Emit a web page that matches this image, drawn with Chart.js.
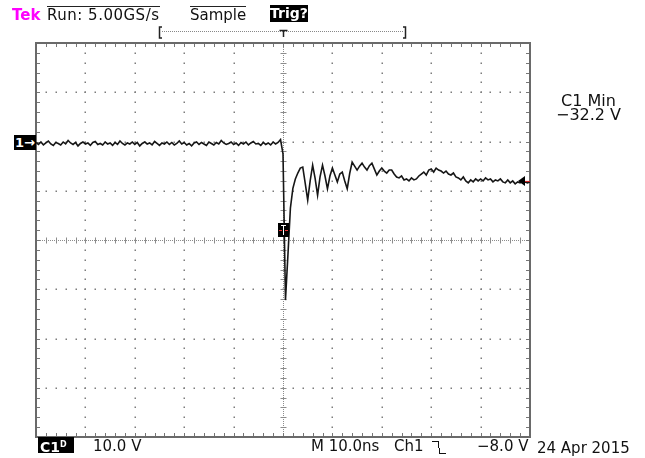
<!DOCTYPE html>
<html>
<head>
<meta charset="utf-8">
<script src="https://cdn.jsdelivr.net/npm/chart.js@4.4.1/dist/chart.umd.min.js"></script>
<style>
  body { margin: 0; background: #fff; }
  #scope { position: relative; width: 645px; height: 458px; overflow: hidden; font-family: "DejaVu Sans", sans-serif; color: #111; }
  #scope canvas { position: absolute; left: 0; top: 0; }
  .txt { position: absolute; font-size: 15px; line-height: 15px; white-space: nowrap; }
  .bar { position: absolute; height: 1px; background: #222; }
  .inv { position: absolute; background: #000; color: #fff; font-weight: bold; font-size: 14px; line-height: 16px; white-space: nowrap; }
</style>
</head>
<body>
<div id="scope">
  <canvas id="scope-chart" width="645" height="458"></canvas>

  <div class="txt" style="left:12px; top:8px; color:#ff00ff; font-weight:bold;">Tek</div>
  <div class="bar" style="left:47px; top:6px; width:113px;"></div>
  <div class="txt" style="left:47px; top:8px; letter-spacing:0.5px;">Run: 5.00GS/s</div>
  <div class="bar" style="left:190px; top:6px; width:56px;"></div>
  <div class="txt" style="left:190px; top:8px;">Sample</div>
  <div class="inv" style="left:270px; top:5px; width:38px; height:17px; text-align:center;">Trig?</div>

  <div class="inv" style="left:14px; top:135px; width:21px; height:15px; font-size:13px; line-height:15px; padding-left:1px;">1→</div>

  <div class="txt" style="left:561px; top:93px; font-size:16px; line-height:16px;">C1 Min</div>
  <div class="txt" style="left:556px; top:107px; font-size:16px; line-height:16px;">−32.2 V</div>

  <div class="inv" style="left:38px; top:437px; width:34px; height:16px; padding-left:2px;">C1<span style="font-size:8px; vertical-align:5px;">D</span></div>
  <div class="txt" style="left:93px; top:439px;">10.0 V</div>
  <div class="txt" style="left:311px; top:439px;">M 10.0ns</div>
  <div class="txt" style="left:394px; top:439px;">Ch1</div>
  <div style="position:absolute; left:432px; top:441px; width:6px; height:6px; border-top:1.5px solid #111; border-right:1.5px solid #111;"></div>
  <div style="position:absolute; left:439px; top:448px; width:6px; height:5px; border-left:1.5px solid #111; border-bottom:1.5px solid #111;"></div>
  <div class="txt" style="left:477px; top:439px;">−8.0 V</div>
  <div class="txt" style="left:537px; top:441px;">24 Apr 2015</div>
</div>

<script>
// time axis (ns) and volt axis (V), 10 divisions x 8 divisions
const timeDivisionsNs = [-50, -40, -30, -20, -10, 0, 10, 20, 30, 40, 50];
const voltDivisions = [-60, -50, -40, -30, -20, -10, 0, 10, 20];
const minorStepNs = 2;
const minorStepV = 2;
const triggerLevelV = -8;

// Ch1 record, one sample every 0.5 ns from -50 ns
const timeStartNs = -50;
const sampleStepNs = 0.5;
const ch1Volts = [
    -0.2, -0.6, -0.1, -0.7, -0.3, 0.1, -0.5, -0.8, -0.2, -0.4,
    -0.7, -0.1, -0.5, 0.2, -0.3, -0.6, -0.2, -0.9, -0.4, -0.1,
    -0.5, -0.3, -0.8, -0.2, 0.0, -0.6, -0.4, -0.7, -0.1, -0.5,
    -0.3, -0.8, -0.2, -0.6, 0.1, -0.4, -0.7, -0.3, -0.5, -0.1,
    -0.6, -0.2, -0.9, -0.4, -0.1, -0.5, -0.3, -0.7, 0.0, -0.4,
    -0.8, -0.3, -0.5, -0.1, -0.6, -0.2, -0.7, -0.4, 0.1, -0.5,
    -0.2, -0.7, -0.4, -0.9, -0.3, -0.1, -0.6, -0.2, -0.5, -0.8,
    -0.1, -0.4, -0.7, -0.2, -0.5, 0.2, -0.3, -0.6, -0.4, -0.1,
    -0.6, -0.3, -0.8, -0.2, -0.5, -0.1, -0.7, -0.3, 0.0, -0.5,
    -0.4, -0.8, -0.2, -0.6, -0.3, -0.7, -0.1, -0.5, -0.2, 0.4,
    -2.5, -32.2, -23.0, -13.5, -9.5, -7.6, -6.4, -5.4, -5.2, -8.5,
    -11.9, -8.0, -4.8, -7.5, -10.9, -7.2, -4.8, -7.0, -9.6, -7.0,
    -5.4, -6.8, -8.2, -6.6, -6.2, -8.0, -9.6, -6.5, -4.2, -5.0,
    -5.8, -5.0, -4.4, -5.2, -5.8, -4.9, -4.4, -5.6, -6.8, -6.0,
    -5.4, -6.0, -6.4, -5.8, -5.8, -6.6, -7.2, -7.4, -7.0, -7.8,
    -7.6, -8.0, -7.4, -7.8, -7.6, -7.0, -6.6, -6.2, -6.8, -5.8,
    -5.6, -6.2, -5.4, -5.8, -6.0, -6.4, -6.0, -6.6, -6.8, -6.4,
    -7.2, -7.4, -7.8, -7.2, -8.0, -8.4, -7.8, -8.2, -7.6, -8.0,
    -7.6, -8.0, -7.4, -7.8, -7.6, -8.2, -7.8, -8.0, -7.6, -8.2,
    -8.4, -7.8, -8.4, -8.0, -8.6, -8.2, -8.4, -8.0, -8.2, -8.4,
    -8.2
];

const points = ch1Volts.map((v, i) => ({x: timeStartNs + i * sampleStepNs, y: v}));

const tMin = timeDivisionsNs[0], tMax = timeDivisionsNs[timeDivisionsNs.length - 1];
const vMin = voltDivisions[0], vMax = voltDivisions[voltDivisions.length - 1];
const tMid = (tMin + tMax) / 2, vMid = (vMin + vMax) / 2;

// graticule, record bar and markers
const scopeGrid = {
    id: 'scopeGrid',
    beforeDatasetsDraw(chart) {
        const {ctx, chartArea: a, scales: {x, y}} = chart;
        ctx.save();

        // dotted division lines
        ctx.fillStyle = '#7c7c7c';
        timeDivisionsNs.forEach(t => {
            if (t === tMin || t === tMax || t === tMid) return;
            const px = Math.round(x.getPixelForValue(t));
            for (let v = vMin; v <= vMax; v += minorStepV) {
                ctx.fillRect(px - 0.5, Math.round(y.getPixelForValue(v)) - 0.5, 1.5, 1.5);
            }
        });
        voltDivisions.forEach(v => {
            if (v === vMin || v === vMax || v === vMid) return;
            const py = Math.round(y.getPixelForValue(v));
            for (let t = tMin; t <= tMax; t += minorStepNs) {
                ctx.fillRect(Math.round(x.getPixelForValue(t)) - 0.5, py - 0.5, 1.5, 1.5);
            }
        });

        // centre cross with fine dots and minor ticks
        const cx = Math.round(x.getPixelForValue(tMid)) + 0.5;
        const cy = Math.round(y.getPixelForValue(vMid)) + 0.5;
        ctx.fillStyle = '#8c8c8c';
        for (let px = a.left; px < a.right; px += 2) ctx.fillRect(px, cy - 0.5, 1, 1);
        for (let py = a.top; py < a.bottom; py += 2) ctx.fillRect(cx - 0.5, py, 1, 1);
        ctx.strokeStyle = '#8c8c8c';
        ctx.lineWidth = 1;
        ctx.beginPath();
        for (let t = tMin; t <= tMax; t += minorStepNs) {
            const px = Math.round(x.getPixelForValue(t)) + 0.5;
            ctx.moveTo(px, cy - 3); ctx.lineTo(px, cy + 3);
        }
        for (let v = vMin; v <= vMax; v += minorStepV) {
            const py = Math.round(y.getPixelForValue(v)) + 0.5;
            ctx.moveTo(cx - 3, py); ctx.lineTo(cx + 3, py);
        }
        ctx.stroke();

        // outer frame with inner ticks
        ctx.strokeStyle = '#777';
        ctx.beginPath();
        for (let t = tMin; t <= tMax; t += minorStepNs) {
            const px = Math.round(x.getPixelForValue(t)) + 0.5;
            ctx.moveTo(px, a.top); ctx.lineTo(px, a.top + 4);
            ctx.moveTo(px, a.bottom); ctx.lineTo(px, a.bottom - 4);
        }
        for (let v = vMin; v <= vMax; v += minorStepV) {
            const py = Math.round(y.getPixelForValue(v)) + 0.5;
            ctx.moveTo(a.left, py); ctx.lineTo(a.left + 4, py);
            ctx.moveTo(a.right, py); ctx.lineTo(a.right - 4, py);
        }
        ctx.stroke();
        ctx.strokeStyle = '#6a6a6a';
        ctx.lineWidth = 2;
        ctx.strokeRect(a.left, a.top, a.right - a.left, a.bottom - a.top);

        // record length bar with trigger T
        ctx.strokeStyle = '#888';
        ctx.lineWidth = 1;
        ctx.setLineDash([1, 1]);
        ctx.beginPath();
        ctx.moveTo(162, 31.5); ctx.lineTo(404, 31.5);
        ctx.stroke();
        ctx.setLineDash([]);
        ctx.strokeStyle = '#222';
        ctx.lineWidth = 1.5;
        ctx.beginPath();
        ctx.moveTo(162, 27); ctx.lineTo(159.5, 27); ctx.lineTo(159.5, 38); ctx.lineTo(162, 38);
        ctx.moveTo(403, 27); ctx.lineTo(405.5, 27); ctx.lineTo(405.5, 38); ctx.lineTo(403, 38);
        const tx = Math.round(x.getPixelForValue(0)) + 0.5;
        ctx.moveTo(tx - 4, 30.5); ctx.lineTo(tx + 4, 30.5);
        ctx.moveTo(tx, 30.5); ctx.lineTo(tx, 37);
        ctx.stroke();
        ctx.restore();
    },
    afterDatasetsDraw(chart) {
        const {ctx, chartArea: a, scales: {x, y}} = chart;
        ctx.save();
        // trigger level arrow at right edge
        const ly = y.getPixelForValue(triggerLevelV);
        ctx.fillStyle = '#000';
        ctx.beginPath();
        ctx.moveTo(a.right - 12, ly); ctx.lineTo(a.right - 5, ly - 5); ctx.lineTo(a.right - 5, ly + 5);
        ctx.closePath();
        ctx.fill();
        ctx.strokeStyle = '#d22';
        ctx.lineWidth = 1;
        ctx.beginPath();
        ctx.moveTo(a.right - 5, ly + 0.5); ctx.lineTo(a.right, ly + 0.5);
        ctx.stroke();

        // trigger position marker
        const mx = Math.round(x.getPixelForValue(0));
        const my = Math.round(y.getPixelForValue(-18));
        ctx.fillStyle = '#000';
        ctx.fillRect(mx - 5, my - 7, 11, 14);
        ctx.strokeStyle = '#fff';
        ctx.beginPath();
        ctx.moveTo(mx - 2, my - 4.5); ctx.lineTo(mx + 3, my - 4.5);
        ctx.moveTo(mx + 0.5, my - 4.5); ctx.lineTo(mx + 0.5, my + 5);
        ctx.stroke();
        ctx.strokeStyle = '#e33';
        ctx.beginPath();
        ctx.moveTo(mx - 4, my + 0.5); ctx.lineTo(mx - 1, my + 0.5);
        ctx.moveTo(mx + 2, my + 0.5); ctx.lineTo(mx + 5, my + 0.5);
        ctx.stroke();
        ctx.restore();
    }
};

const ctx = document.getElementById('scope-chart').getContext('2d');
window.scopeChart = new Chart(ctx, {
    type: 'line',
    data: {
        datasets: [{
            data: points,
            borderColor: '#161616',
            borderWidth: 1.6,
            pointRadius: 0,
            tension: 0,
            fill: false
        }]
    },
    options: {
        responsive: false,
        animation: false,
        devicePixelRatio: 1,
        layout: {padding: {left: 36, right: 115, top: 43, bottom: 21}},
        plugins: {legend: {display: false}, tooltip: {enabled: false}},
        scales: {
            x: {type: 'linear', min: tMin, max: tMax, display: false},
            y: {type: 'linear', min: vMin, max: vMax, display: false}
        }
    },
    plugins: [scopeGrid]
});
</script>
</body>
</html>
